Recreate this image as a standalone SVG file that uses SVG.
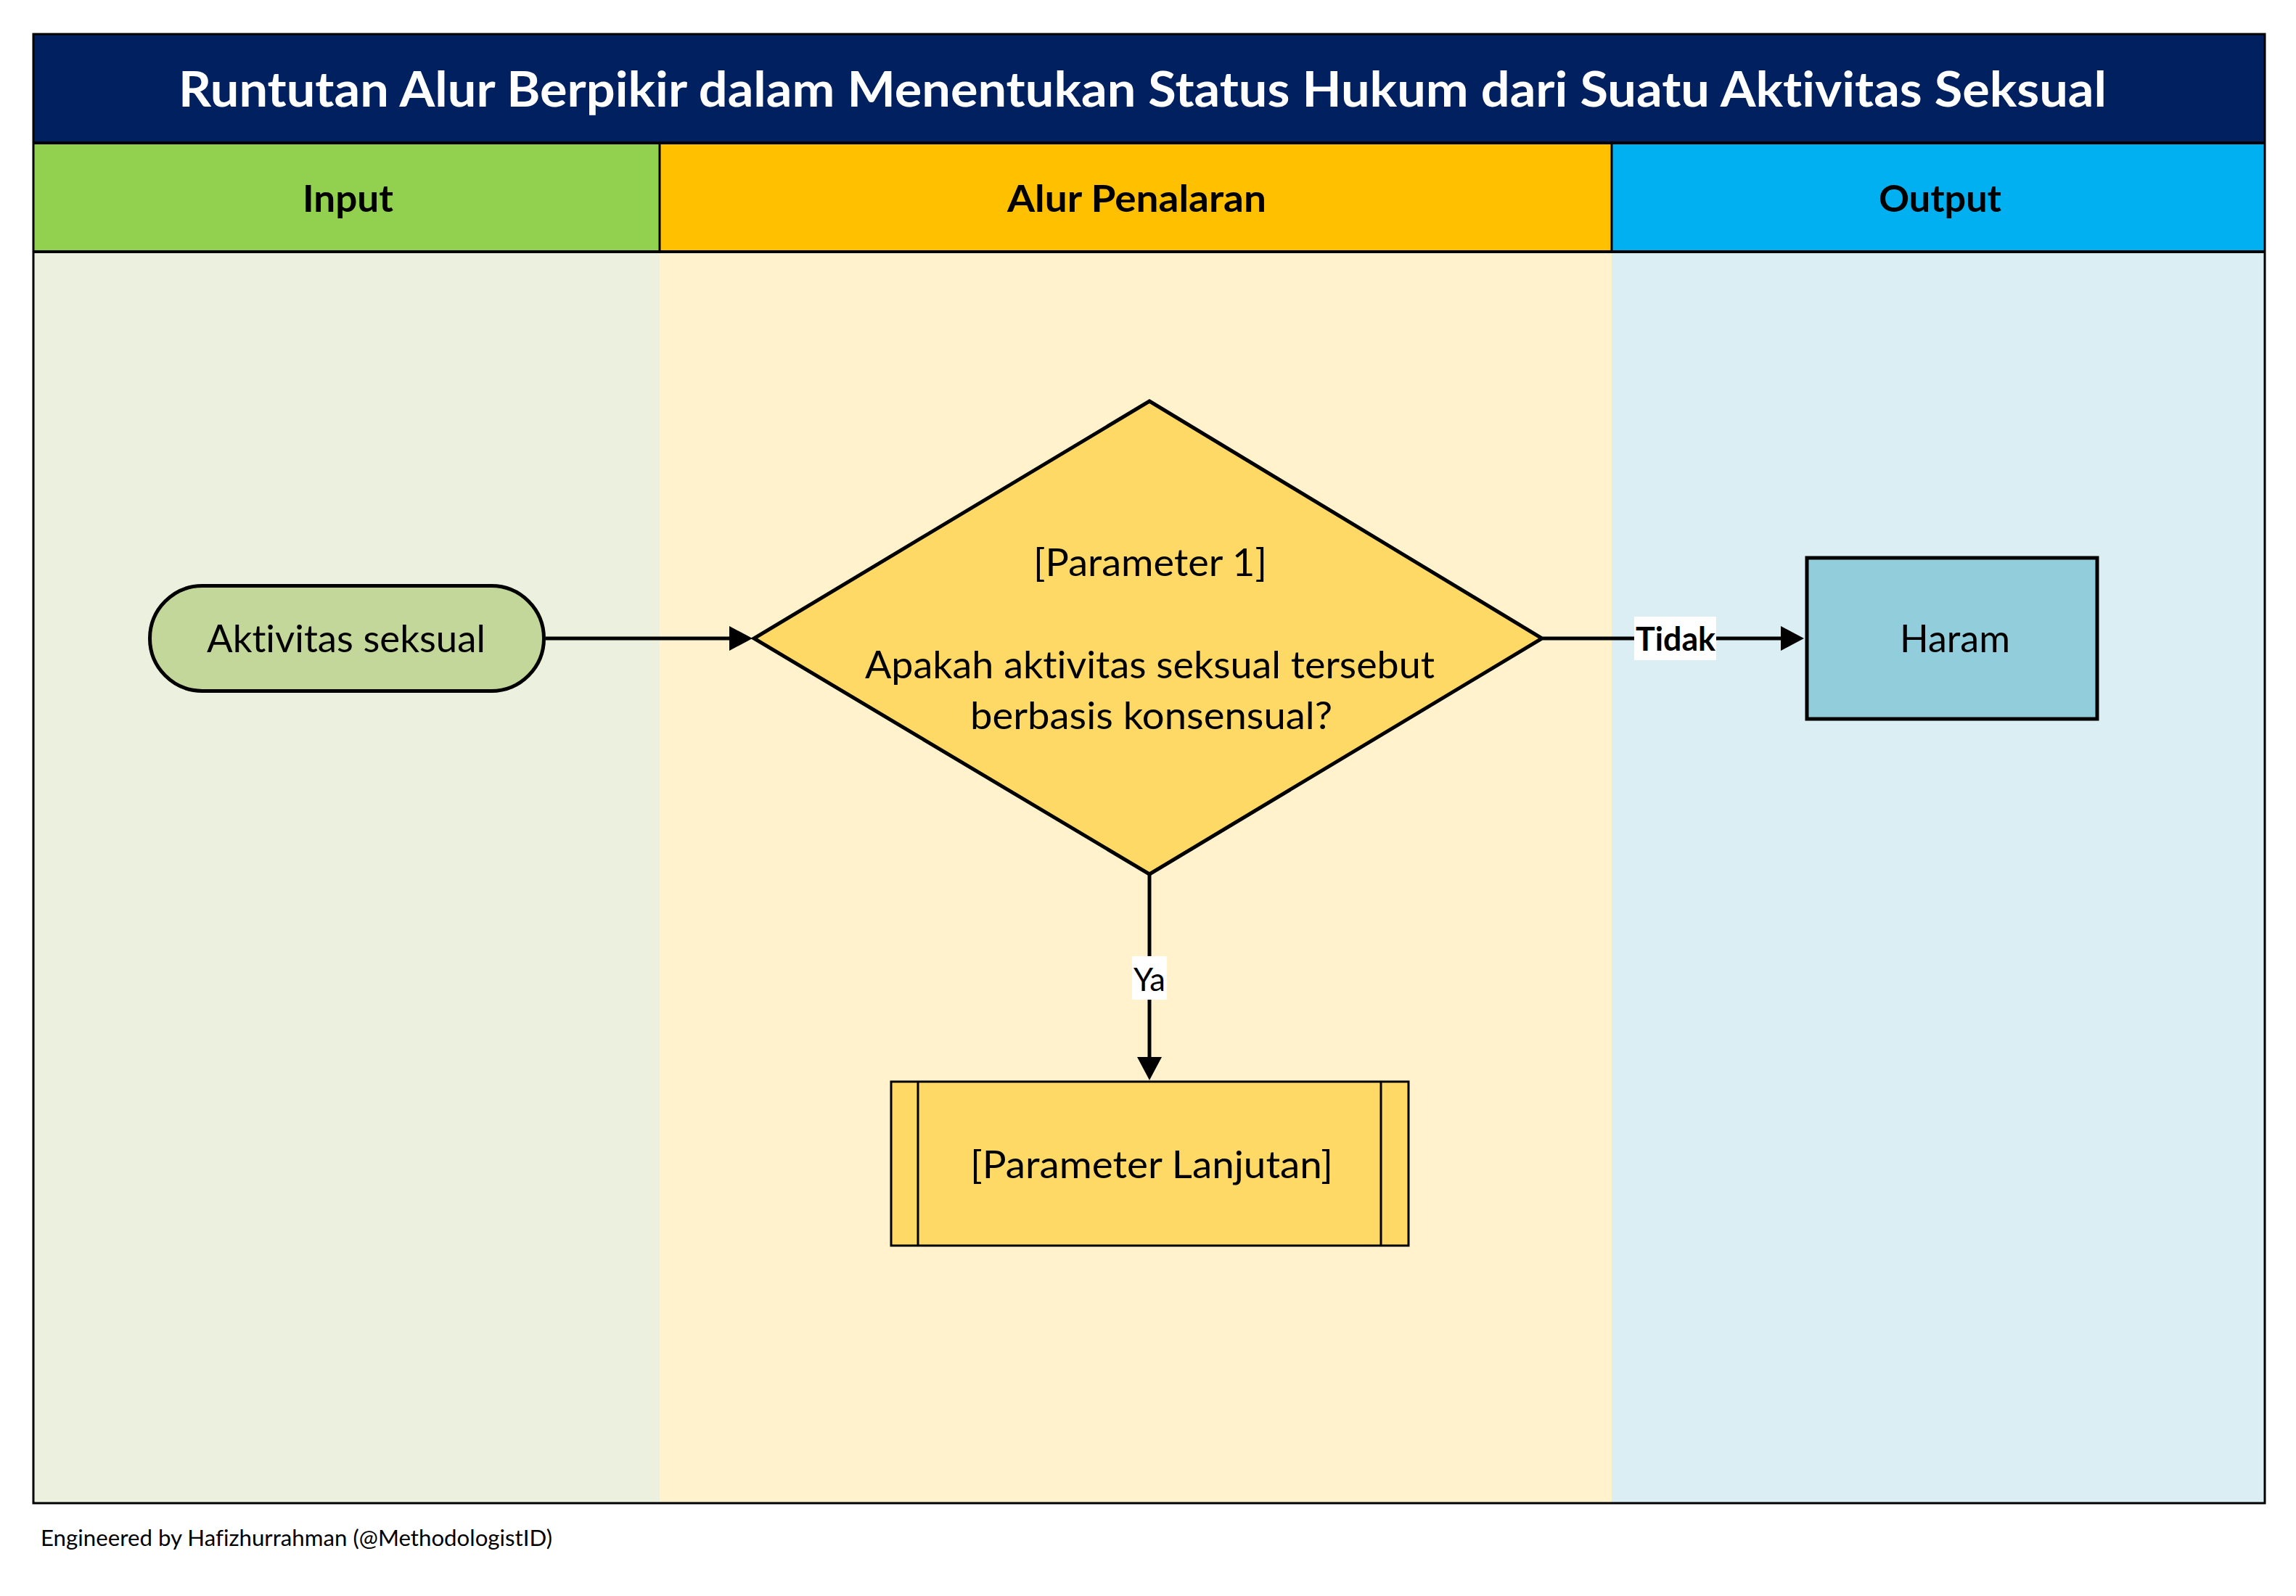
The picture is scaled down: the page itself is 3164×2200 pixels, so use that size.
<svg xmlns="http://www.w3.org/2000/svg" width="3164" height="2200" viewBox="0 0 3164 2200">
<style>
.t{font-family:Lato,"Open Sans","Liberation Sans",sans-serif;fill:#000;font-variant-ligatures:none;font-feature-settings:"liga" 0,"clig" 0,"dlig" 0}
.b{font-weight:bold}
.edge{stroke:#000;stroke-width:5;fill:none}
.node{stroke:#000;stroke-width:5}
.lbl{fill:#fff}
</style>
<defs>
<marker id="arr" markerUnits="userSpaceOnUse" viewBox="0 0 32 34" markerWidth="32" markerHeight="34" refX="1" refY="17" orient="auto">
<path d="M0,0 L32,17 L0,34 Z" fill="#000"/>
</marker>
</defs>
<rect width="3164" height="2200" fill="#fff"/>
<g id="lanes">
<rect x="46" y="347" width="863" height="1725" fill="#EBF1DE"/>
<rect x="909" y="347" width="1312" height="1725" fill="#FFF2CC"/>
<rect x="2221" y="347" width="900" height="1725" fill="#DAEEF3"/>
</g>
<g id="title">
<rect x="46" y="46" width="3075" height="151" fill="#002060"/>
<text class="t b" x="246" y="147" font-size="66" style="fill:#fff" textLength="2657" lengthAdjust="spacingAndGlyphs">Runtutan Alur Berpikir dalam Menentukan Status Hukum dari Suatu Aktivitas Seksual</text>
</g>
<g id="header-input">
<rect x="46" y="197" width="863" height="150" fill="#92D050"/>
<text class="t b" x="417" y="292" font-size="52" textLength="125" lengthAdjust="spacingAndGlyphs">Input</text>
</g>
<g id="header-alur">
<rect x="909" y="197" width="1312" height="150" fill="#FFC000"/>
<text class="t b" x="1388" y="292" font-size="52" textLength="357" lengthAdjust="spacingAndGlyphs">Alur Penalaran</text>
</g>
<g id="header-output">
<rect x="2221" y="197" width="900" height="150" fill="#00B0F0"/>
<text class="t b" x="2589" y="292" font-size="52" textLength="169" lengthAdjust="spacingAndGlyphs">Output</text>
</g>
<g id="frame" fill="none" stroke="#000">
<line x1="46" y1="197" x2="3121" y2="197" stroke-width="4"/>
<line x1="46" y1="347" x2="3121" y2="347" stroke-width="4"/>
<line x1="909" y1="197" x2="909" y2="347" stroke-width="3"/>
<line x1="2221" y1="197" x2="2221" y2="347" stroke-width="3"/>
<rect x="46" y="47" width="3075" height="2025" stroke-width="3"/>
</g>
<g id="connectors">
<path class="edge" d="M752,880 H1006" marker-end="url(#arr)"/>
<path class="edge" d="M2126,880 H2455" marker-end="url(#arr)"/>
<path class="edge" d="M1584,1205 V1458" marker-end="url(#arr)"/>
<rect class="lbl" x="2252" y="850" width="113" height="60"/>
<text class="t b" x="2254" y="897" font-size="46" textLength="110" lengthAdjust="spacingAndGlyphs">Tidak</text>
<rect class="lbl" x="1560" y="1318" width="48" height="60"/>
<text class="t" x="1562" y="1366" font-size="45" textLength="44" lengthAdjust="spacingAndGlyphs">Ya</text>
</g>
<g id="node-aktivitas">
<rect class="node" x="206.5" y="807.5" width="543" height="145" rx="72.5" ry="72.5" fill="#C4D79B"/>
<text class="t" x="285" y="899" font-size="52" textLength="384" lengthAdjust="spacingAndGlyphs">Aktivitas seksual</text>
</g>
<g id="node-parameter1">
<polygon class="node" points="1584,553 2125,880 1584,1205 1039,880" fill="#FFD966"/>
<text class="t" x="1424" y="794" font-size="52" textLength="322" lengthAdjust="spacingAndGlyphs">[Parameter 1]</text>
<text class="t" x="1192" y="935" font-size="52" textLength="785" lengthAdjust="spacingAndGlyphs">Apakah aktivitas seksual tersebut</text>
<text class="t" x="1337" y="1005" font-size="52" textLength="499" lengthAdjust="spacingAndGlyphs">berbasis konsensual?</text>
</g>
<g id="node-haram">
<rect class="node" x="2490" y="769" width="400" height="222" fill="#92CDDC" stroke-width="6"/>
<text class="t" x="2618" y="899" font-size="52" textLength="152" lengthAdjust="spacingAndGlyphs">Haram</text>
</g>
<g id="node-lanjutan">
<rect x="1228" y="1491" width="713" height="226" fill="#FFD966" stroke="#000" stroke-width="3"/>
<line x1="1265" y1="1491" x2="1265" y2="1717" stroke="#000" stroke-width="3"/>
<line x1="1903" y1="1491" x2="1903" y2="1717" stroke="#000" stroke-width="3"/>
<text class="t" x="1337" y="1624" font-size="52" textLength="500" lengthAdjust="spacingAndGlyphs">[Parameter Lanjutan]</text>
</g>
<g id="footer">
<text class="t" x="56" y="2131" font-size="30" textLength="705" lengthAdjust="spacingAndGlyphs">Engineered by Hafizhurrahman (@MethodologistID)</text>
</g>
</svg>
